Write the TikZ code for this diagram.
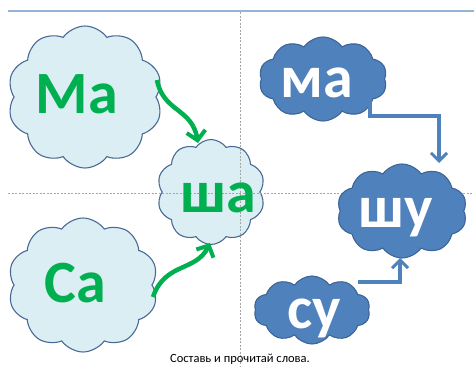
\documentclass[tikz,border=0pt]{standalone}
\usepackage{fontspec}
\setmainfont{Carlito}
\usetikzlibrary{shapes.symbols,arrows.meta,calc}
\definecolor{lcfill}{HTML}{DBEEF4}
\definecolor{lcdraw}{HTML}{4A6A96}
\definecolor{dcfill}{HTML}{4F81BD}
\definecolor{dcdraw}{HTML}{3D6596}
\definecolor{grn}{HTML}{00B050}
\definecolor{topline}{HTML}{95B3D7}
\begin{document}
\begin{tikzpicture}[x=1pt,y=-1pt,
  cloudbase/.style={cloud, cloud puffs=10, cloud puff arc=110, cloud ignores aspect, line width=1.1pt, inner sep=0pt},
  lightcloud/.style={cloudbase, fill=lcfill, draw=lcdraw},
  darkcloud/.style={cloudbase, fill=dcfill, draw=dcdraw},
  word/.style={font=\fontsize{60}{60}\selectfont\bfseries, inner sep=0pt, anchor=base},
  greenword/.style={word, text=grn},
  whiteword/.style={word, text=white},
  garrow/.style={draw=grn, line width=4.5pt, -{Straight Barb[length=9pt,width=19pt,line width=4pt]}},
  barrow/.style={draw=dcfill, line width=3.2pt, -{Straight Barb[length=8pt,width=16pt,line width=3pt]}},
  guide/.style={draw=gray!70, line width=0.6pt, dashed, dash pattern=on 2pt off 1.5pt},
  caption/.style={font=\fontsize{12.5}{12.5}\selectfont, inner sep=0pt, anchor=base}]
\useasboundingbox (0,0) rectangle (474,367);
\fill[white] (0,0) rectangle (474,367);
% light clouds
\node[lightcloud, minimum width=155pt, minimum height=142pt, shape border rotate=10] (c1) at (85,97) {};
\node[lightcloud, minimum width=108pt, minimum height=105pt, shape border rotate=-8] (c2) at (211,192) {};
\node[lightcloud, minimum width=150pt, minimum height=134pt, shape border rotate=5] (c3) at (83,285) {};
% guides
\coordinate (hl) at (8,193);
\coordinate (hr) at (474,193);
\coordinate (vt) at (240,12);
\coordinate (vb) at (240,367);
\draw[guide] (hl) -- (hr);
\draw[guide] (vt) -- (vb);
\coordinate (tl) at (8,11);
\coordinate (tr) at (474,11);
\draw[topline, line width=2pt] (tl) -- (tr);
% dark clouds
\node[darkcloud, minimum width=128pt, minimum height=84pt] (c4) at (323,79) {};
\node[darkcloud, minimum width=130pt, minimum height=94pt, shape border rotate=12] (c5) at (402,211) {};
\node[darkcloud, minimum width=116pt, minimum height=68pt, shape border rotate=-6] (c6) at (312,310) {};
% words
\node[greenword] (t1) at (77,113) {Ма};
\node[greenword] (t2) at (218,212) {ша};
\node[greenword] (t3) at (75,302) {Са};
\node[whiteword] (t4) at (317,97) {ма};
\node[whiteword] (t5) at (396,227) {шу};
\node[whiteword] (t6) at (314,328) {су};
% arrows
\coordinate (g1s) at (157,80);
\coordinate (g1e) at (198,143);
\coordinate (g2s) at (153,297);
\coordinate (g2e) at (210,243);
\draw[garrow] (g1s) .. controls (163,112) and (192,108) .. (g1e);
\draw[garrow] (g2s) .. controls (165,262) and (196,272) .. (g2e);
\coordinate (b1s) at (370,98);
\coordinate (b1m) at (370,116);
\coordinate (b1n) at (439,116);
\coordinate (b1e) at (439,163);
\draw[barrow] (b1s) -- (b1m) -- (b1n) -- (b1e);
\coordinate (b2s) at (358,282);
\coordinate (b2m) at (400,282);
\coordinate (b2e) at (400,258);
\draw[barrow] (b2s) -- (b2m) -- (b2e);
% caption
\node[caption] (cap) at (240,362) {Составь и прочитай слова.};
\end{tikzpicture}
\end{document}
